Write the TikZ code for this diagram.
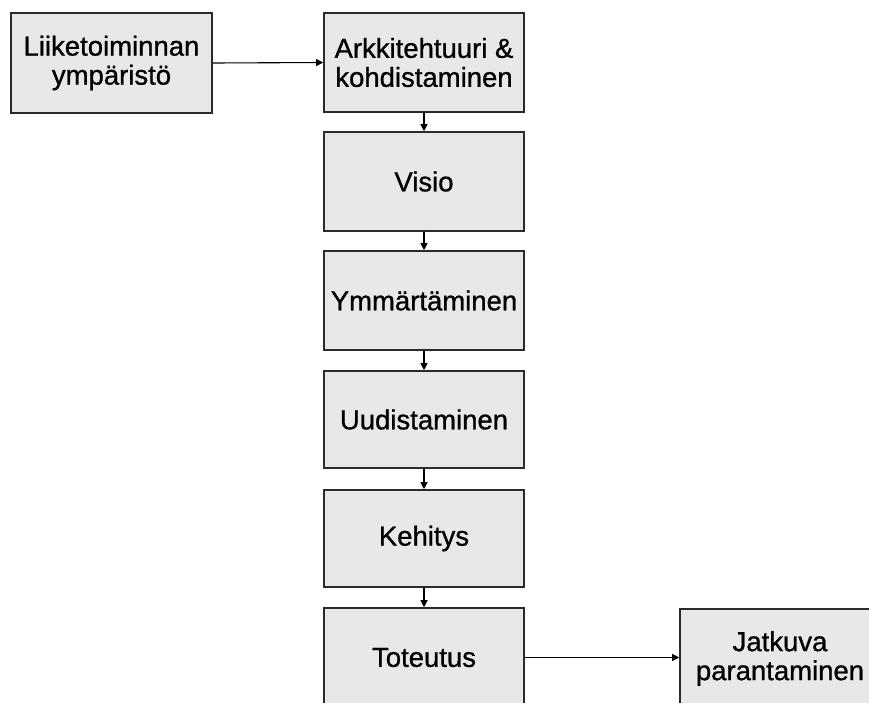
\documentclass[tikz,border=0pt]{standalone}
\usepackage{fontspec}
\setmainfont{Liberation Sans}
\newfontfamily\labelfont{Liberation Sans}[FakeBold=0.9]
\usetikzlibrary{arrows.meta}
\definecolor{boxfill}{HTML}{E8E8E8}
\definecolor{boxline}{HTML}{2A2A2A}
\tikzset{
  stepbox/.style={draw=boxline, line width=1.6pt, fill=boxfill,
    minimum width=200pt, minimum height=99pt, inner sep=0pt,
    align=center, font=\labelfont\fontsize{27.5}{29}\selectfont},
  flow/.style={draw=black, line width=1.1pt,
    -{Triangle[length=7pt,width=7pt]}}
}
\begin{document}
\begin{tikzpicture}[x=1pt,y=-1pt]
  \useasboundingbox (0,0) rectangle (869,702);
  \clip (0,0) rectangle (869,702);
  \fill[white] (0,0) rectangle (869,702);

  \node[stepbox, minimum width=201pt, minimum height=100pt] (env) at (111.5,63) {Liiketoiminnan\\ympäristö};
  \node[stepbox] (arch) at (424,62.5) {Arkkitehtuuri \&\\kohdistaminen};
  \node[stepbox] (vis) at (424,181.5) {Visio};
  \node[stepbox] (und) at (424,300.5) {Ymmärtäminen};
  \node[stepbox, minimum height=97pt] (ren) at (424,419.5) {Uudistaminen};
  \node[stepbox, minimum height=97pt] (dev) at (424,538.5) {Kehitys};
  \node[stepbox] (impl) at (424,657.5) {Toteutus};
  \node[stepbox] (imp) at (780,658.5) {Jatkuva\\parantaminen};

  \draw[flow] (env.east) -- (arch.west);
  \draw[flow] (arch) -- (vis);
  \draw[flow] (vis) -- (und);
  \draw[flow] (und) -- (ren);
  \draw[flow] (ren) -- (dev);
  \draw[flow] (dev) -- (impl);
  \draw[flow] (impl.east) -- (imp.west |- impl.east);
\end{tikzpicture}
\end{document}
